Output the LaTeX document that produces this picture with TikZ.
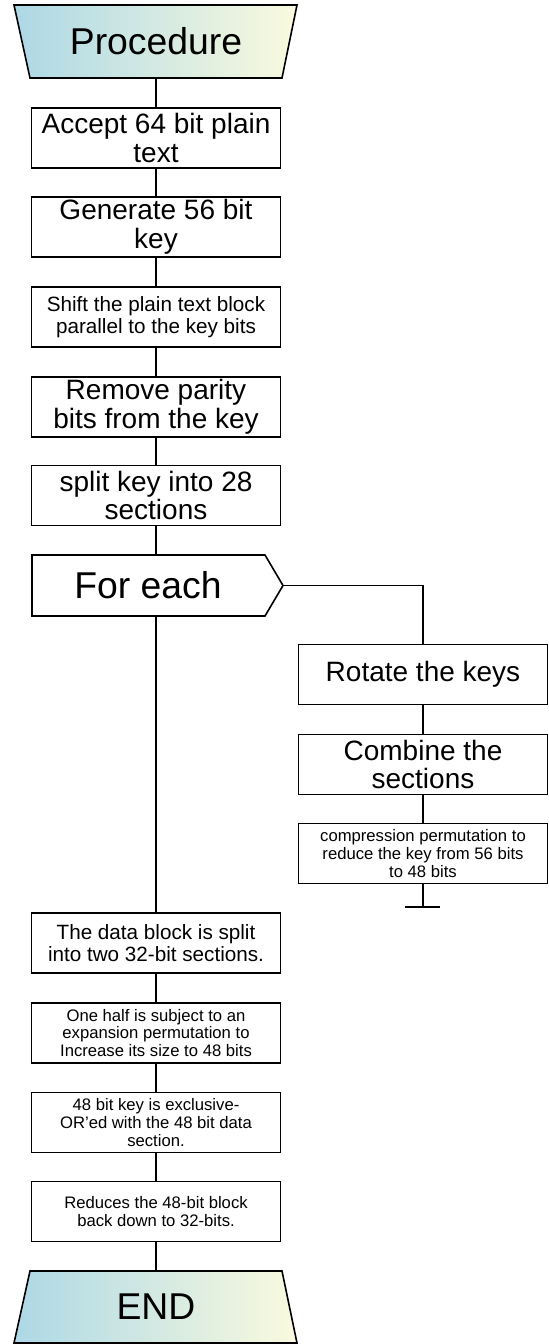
\documentclass[tikz,border=0pt]{standalone}
\usepackage{fontspec}
\setmainfont{Liberation Sans}
\usepackage{tikz}
\usetikzlibrary{positioning}

\definecolor{procblue}{RGB}{173,216,230}
\definecolor{procyellow}{RGB}{250,250,222}

\begin{document}
\begin{tikzpicture}[x=0.75pt,y=0.75pt,yscale=-1,xscale=1,line width=1.2pt,
    stepbox/.style={draw,fill=white,minimum width=186.75pt,minimum height=45pt,inner sep=1pt,align=center,font=\fontsize{21}{21.5}\selectfont},
    smallbox/.style={stepbox,font=\fontsize{15.5}{16.5}\selectfont},
    tinybox/.style={stepbox,font=\fontsize{12.5}{13.2}\selectfont},
    bigtext/.style={font=\fontsize{28}{30}\selectfont}]
        \useasboundingbox (0,0) rectangle (549,1344);

        %Shape: Trapezoid (start)
        \shade[left color=procblue,right color=procyellow,draw] (14,5) -- (297,5) -- (282,78) -- (30,78) -- cycle;
        \node[bigtext,minimum height=54.75pt] (proc) at (156,41.5) {Procedure};

        %Shape: Rectangles, main column
        \node[stepbox] (accept) at (156,138) {Accept 64 bit plain\\text};
        \node[stepbox] (generate) at (156,227) {Generate 56 bit\\key};
        \node[smallbox] (shift) at (156,317) {Shift the plain text block\\parallel to the key bits};
        \node[stepbox] (parity) at (156,407) {Remove parity\\bits from the key};
        \node[stepbox] (split) at (156,495.5) {split key into 28\\sections};

        %Shape: For each
        \draw[fill=white] (32,555) -- (265,555) -- (283,585.5) -- (265,616) -- (32,616) -- cycle;
        \node[bigtext] (foreach) at (148,585.5) {For each};
        \coordinate (eachtop) at (156,555);
        \coordinate (eachbot) at (156,616);
        \coordinate (eachtip) at (283,585.5);

        %Shape: Rectangles, right column
        \node[stepbox] (rotate) at (423,674.5) {Rotate the keys};
        \node[stepbox] (combine) at (423,764.5) {Combine the\\sections};
        \node[tinybox] (compress) at (423,853.5) {compression permutation to\\reduce the key from 56 bits\\to 48 bits};
        \coordinate (stub) at (423,907);
        \coordinate (stubl) at (405,907);
        \coordinate (stubr) at (440,907);

        %Shape: Rectangles, lower column
        \node[smallbox] (data) at (156,943) {The data block is split\\into two 32-bit sections.};
        \node[tinybox] (expand) at (156,1033) {One half is subject to an\\expansion permutation to\\Increase its size to 48 bits};
        \node[tinybox] (xorkey) at (156,1122.5) {48 bit key is exclusive-\\OR'ed with the 48 bit data\\section.};
        \node[tinybox] (reduce) at (156,1211.5) {Reduces the 48-bit block\\back down to 32-bits.};

        %Shape: Trapezoid (end)
        \shade[left color=procblue,right color=procyellow,draw] (30,1271) -- (282,1271) -- (297,1343) -- (14,1343) -- cycle;
        \node[bigtext,minimum height=54pt] (finish) at (156,1307) {END};

        %Straight Lines
        \draw (proc) -- (accept);
        \draw (accept) -- (generate);
        \draw (generate) -- (shift);
        \draw (shift) -- (parity);
        \draw (parity) -- (split);
        \draw (split) -- (eachtop);
        \draw (eachtip) -| (rotate);
        \draw (rotate) -- (combine);
        \draw (combine) -- (compress);
        \draw (compress) -- (stub);
        \draw (stubl) -- (stubr);
        \draw (eachbot) -- (data);
        \draw (data) -- (expand);
        \draw (expand) -- (xorkey);
        \draw (xorkey) -- (reduce);
        \draw (reduce) -- (finish);
\end{tikzpicture}
\end{document}
